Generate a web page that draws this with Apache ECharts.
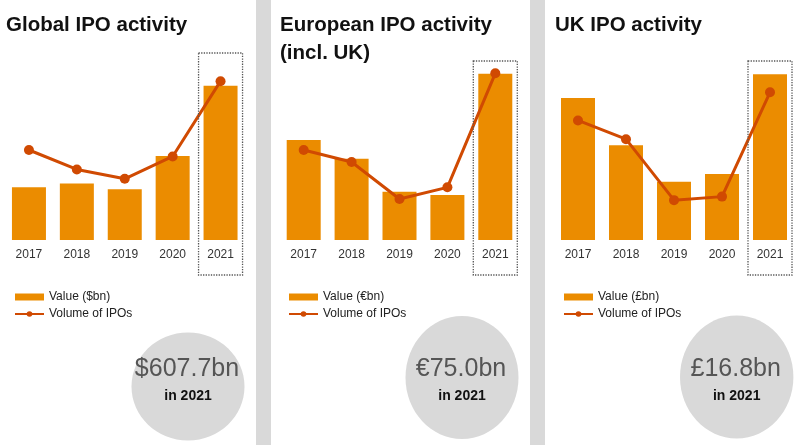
<!DOCTYPE html>
<html>
<head>
<meta charset="utf-8">
<script src="https://cdn.jsdelivr.net/npm/echarts@6/dist/echarts.min.js"></script>
<style>
html,body{margin:0;padding:0;background:#fff;}
#c{width:800px;height:445px;}
</style>
</head>
<body>
<div id="c"></div>
<script>
const categories = ['2017', '2018', '2019', '2020', '2021'];
const globalValue = [208, 223, 200, 331, 607.7];
const globalVolume = [1530, 1200, 1040, 1420, 2700];
const europeValue = [45.1, 36.7, 21.8, 20.3, 75.0];
const europeVolume = [270, 234, 123, 158, 500];
const ukValue = [14.4, 9.6, 5.9, 6.7, 16.8];
const ukVolume = [102, 86, 34, 37, 126];
const titles = ['Global IPO activity', 'European IPO activity\n(incl. UK)', 'UK IPO activity'];
const valueNames = ['Value ($bn)', 'Value (€bn)', 'Value (£bn)'];
const volumeName = 'Volume of IPOs';
const highlights = ['$607.7bn', '€75.0bn', '£16.8bn'];
const highlightYear = 'in 2021';

const FONT = '"Liberation Sans", Arial, sans-serif';
const BAR = '#eb8c00';
const LINE = '#d04a02';

const panels = [
  {value: globalValue, volume: globalVolume, vmax: 787.7, qmax: 3400, left: 5, width: 239.5, titleLeft: 6, legendLeft: 14, boxTop: 53,
   circle: {cx: 188, cy: 386.5, rx: 56.5, ry: 54}},
  {value: europeValue, volume: europeVolume, vmax: 90.2, qmax: 600, left: 279.75, width: 239.5, titleLeft: 280, legendLeft: 288, boxTop: 61,
   circle: {cx: 462, cy: 377.5, rx: 56.5, ry: 61.5}},
  {value: ukValue, volume: ukVolume, vmax: 20.28, qmax: 170.6, left: 554, width: 240, titleLeft: 555, legendLeft: 563, boxTop: 61,
   circle: {cx: 736.7, cy: 377, rx: 56.7, ry: 61.5}}
];

const chart = echarts.init(document.getElementById('c'));

const grid = [], xAxis = [], yAxis = [], series = [], title = [], legend = [], graphic = [];

graphic.push({type: 'rect', shape: {x: 256, y: 0, width: 15, height: 445}, style: {fill: '#d9d9d9'}, silent: true, z: 0});
graphic.push({type: 'rect', shape: {x: 530, y: 0, width: 15, height: 445}, style: {fill: '#d9d9d9'}, silent: true, z: 0});

panels.forEach((p, i) => {
  grid.push({left: p.left, top: 40, width: p.width, height: 200});
  xAxis.push({
    type: 'category', gridIndex: i, data: categories,
    axisLine: {show: false}, axisTick: {show: false},
    axisLabel: {fontSize: 12, color: '#333', fontFamily: FONT, margin: 9}
  });
  yAxis.push({type: 'value', gridIndex: i, min: 0, max: p.vmax, show: false, splitLine: {show: false}});
  yAxis.push({type: 'value', gridIndex: i, min: 0, max: p.qmax, show: false, splitLine: {show: false}});
  series.push({
    type: 'bar', name: valueNames[i], xAxisIndex: i, yAxisIndex: 2 * i,
    data: p.value, barWidth: 34, itemStyle: {color: BAR}, z: 2
  });
  series.push({
    type: 'line', name: volumeName, xAxisIndex: i, yAxisIndex: 2 * i + 1,
    data: p.volume, symbol: 'circle', symbolSize: 10,
    lineStyle: {color: LINE, width: 3}, itemStyle: {color: LINE}, z: 3
  });
  title.push({
    text: titles[i], left: p.titleLeft, top: 11, padding: 0,
    textStyle: {fontSize: 20.5, fontWeight: 'bold', color: '#111', fontFamily: FONT, lineHeight: 28}
  });
  legend.push({
    left: p.legendLeft, top: 291, padding: 0, orient: 'vertical', itemWidth: 29, itemHeight: 7, itemGap: 5,
    itemTextGap: 3, selectedMode: false,
    data: [{name: valueNames[i], icon: 'rect'}, {name: volumeName}],
    textStyle: {fontSize: 12, color: '#222', fontFamily: FONT}
  });
  graphic.push({type: 'ellipse', shape: p.circle, style: {fill: '#d9d9d9'}, silent: true, z: 1});
  graphic.push({type: 'text', x: p.circle.cx - 1, y: 369.5, silent: true, z: 2,
    style: {text: highlights[i], fontSize: 25, fontFamily: FONT, fill: '#555', align: 'center', verticalAlign: 'middle'}});
  graphic.push({type: 'text', x: p.circle.cx, y: 396.5, silent: true, z: 2,
    style: {text: highlightYear, fontSize: 14, fontWeight: 'bold', fontFamily: FONT, fill: '#111', align: 'center', verticalAlign: 'middle'}});
});

chart.setOption({animation: false, grid, xAxis, yAxis, series, title, legend, graphic});

// dotted highlight boxes around the last category, positioned via the axis scale
const boxes = panels.map((p, i) => {
  const cx = chart.convertToPixel({xAxisIndex: i}, categories[categories.length - 1]);
  return {type: 'rect', shape: {x: cx - 22, y: p.boxTop, width: 44, height: 275 - p.boxTop},
    style: {fill: 'none', stroke: '#555', lineWidth: 1.3, lineDash: [1.3, 1.3]}, silent: true, z: 5};
});
chart.setOption({graphic: graphic.concat(boxes)});
</script>
</body>
</html>
